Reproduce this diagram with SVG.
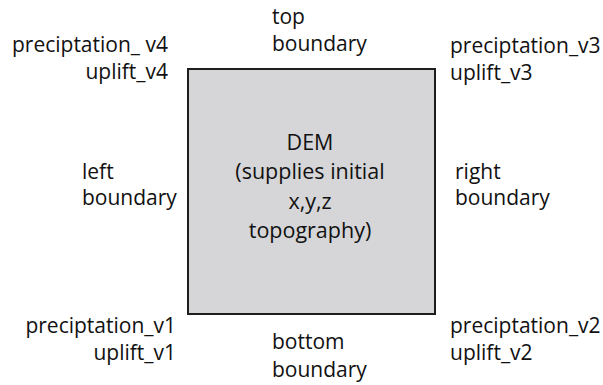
<svg xmlns="http://www.w3.org/2000/svg" width="603" height="385" viewBox="0 0 603 385">
  <style>
    text { font-family: "Open Sans", "Noto Sans", "Liberation Sans", sans-serif; font-size: 21px; fill: #111111; }
    .r { text-anchor: end; }
    .c { text-anchor: middle; font-size: 21.5px; }
    .box { fill: #d6d6d8; stroke: #1e1e1e; stroke-width: 2; }
  </style>
  <rect width="603" height="385" fill="#ffffff"/>

  <!-- DEM domain -->
  <g id="dem">
    <rect class="box" x="188" y="69" width="247" height="245"/>
    <text class="c" x="310" y="150">DEM</text>
    <text class="c" x="310" y="179">(supplies initial</text>
    <text class="c" x="310" y="209">x,y,z</text>
    <text class="c" x="310" y="238">topography)</text>
  </g>

  <!-- boundaries -->
  <g id="top-boundary">
    <text x="272" y="24">top</text>
    <text x="272" y="51">boundary</text>
  </g>
  <g id="left-boundary">
    <text x="82" y="179">left</text>
    <text x="82" y="205">boundary</text>
  </g>
  <g id="right-boundary">
    <text x="455" y="179">right</text>
    <text x="455" y="205">boundary</text>
  </g>
  <g id="bottom-boundary">
    <text x="272" y="349">bottom</text>
    <text x="272" y="377">boundary</text>
  </g>

  <!-- corner vertices -->
  <g id="vertex-4">
    <text class="r" x="168" y="52">preciptation_ v4</text>
    <text class="r" x="168" y="79">uplift_v4</text>
  </g>
  <g id="vertex-3">
    <text x="450" y="53">preciptation_v3</text>
    <text x="450" y="80">uplift_v3</text>
  </g>
  <g id="vertex-1">
    <text class="r" x="176" y="333">preciptation_v1</text>
    <text class="r" x="176" y="360">uplift_v1</text>
  </g>
  <g id="vertex-2">
    <text x="450" y="333">preciptation_v2</text>
    <text x="450" y="360">uplift_v2</text>
  </g>

  <g id="connectors"></g>
</svg>
